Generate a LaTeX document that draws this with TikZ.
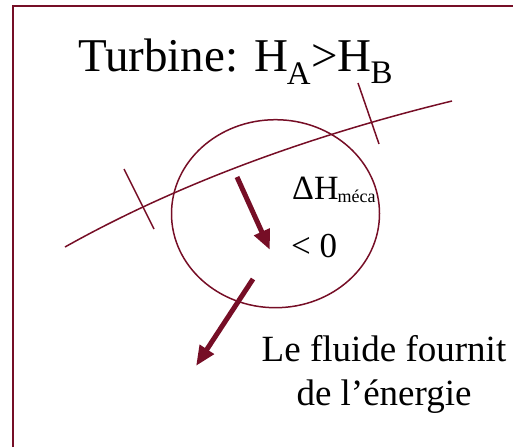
\documentclass[tikz,border=0pt]{standalone}
\usepackage{fontspec}
\setmainfont{Liberation Serif}
\usetikzlibrary{arrows.meta,shapes.geometric}
\definecolor{maroon}{RGB}{118,14,38}
\begin{document}
\begin{tikzpicture}[x=1pt,y=-1pt,
  thin line/.style={draw=maroon,line width=1.5pt},
  big arrow/.style={draw=maroon,line width=5pt,-{Triangle[length=20pt,width=16pt]}},
  txt/.style={inner sep=0pt,text=black}]
\useasboundingbox (0,0) rectangle (513,447);
% frame
\draw[thin line] (13,447) -- (13,6) -- (513,6);
% title
\node[txt,anchor=base west,font=\fontsize{47}{50}\selectfont] (title) at (78,71) {Turbine: H\textsubscript{\kern-1pt A}>H\textsubscript{\kern-1pt B}};
% stream line
\coordinate (s0) at (65,247);
\coordinate (s1) at (452,101);
\draw[thin line] (s0) .. controls (170,188) and (300,138) .. (s1);
% ticks
\coordinate (t1a) at (124,169); \coordinate (t1b) at (154,229);
\coordinate (t2a) at (358,83); \coordinate (t2b) at (379,144);
\draw[thin line] (t1a) -- (t1b);
\draw[thin line] (t2a) -- (t2b);
% control volume
\node[draw=maroon,line width=1.5pt,ellipse,inner sep=0pt,minimum width=208pt,minimum height=188pt] (cv) at (275.5,213.7) {};
% arrows
\coordinate (a1s) at (237,177); \coordinate (a1e) at (270,250);
\draw[big arrow] (a1s) -- (a1e);
\coordinate (a2s) at (253,279); \coordinate (a2e) at (196,366);
\draw[big arrow] (a2s) -- (a2e);
% labels
\node[txt,anchor=base west,font=\fontsize{34}{36}\selectfont] (dh) at (292,199) {ΔH\textsubscript{\kern-1pt\fontsize{18}{18}\selectfont méca}};
\node[txt,anchor=base west,font=\fontsize{35}{36}\selectfont] (lt) at (291,257) {< 0};
\node[txt,anchor=base,font=\fontsize{37}{41}\selectfont] (fl) at (384,361) {Le fluide fournit};
\node[txt,anchor=base,font=\fontsize{37}{41}\selectfont] (en) at (384,405) {de l’énergie};
\end{tikzpicture}
\end{document}
